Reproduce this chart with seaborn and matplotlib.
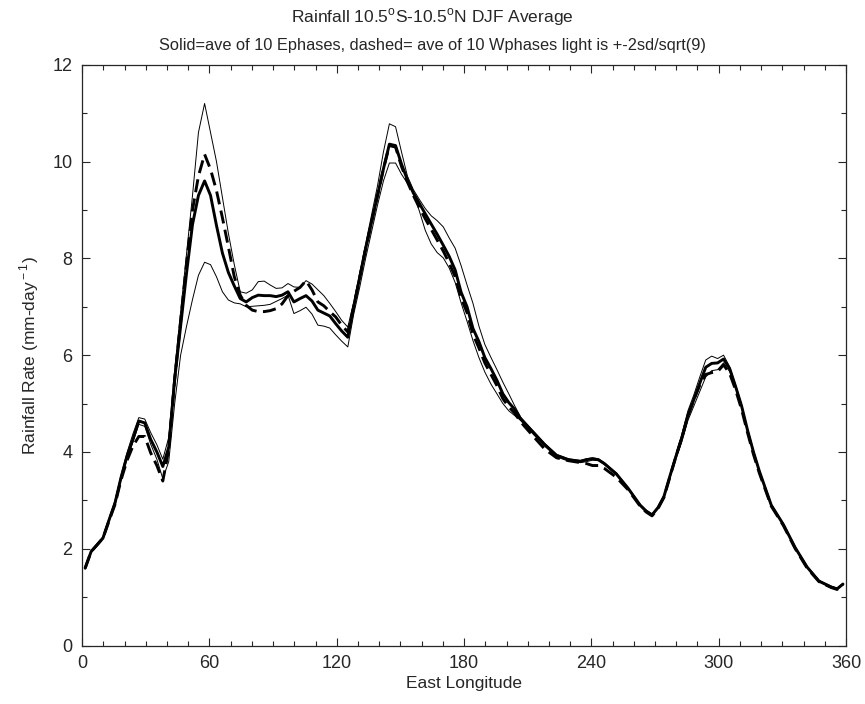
#!/usr/bin/env python3

import numpy as np
import pandas as pd
import matplotlib
matplotlib.use('Agg')
import matplotlib.pyplot as plt
from matplotlib.ticker import MultipleLocator
import seaborn as sns

# longitudes of the model grid points (deg E)
lon = [1.4, 4.2, 7.0, 9.8, 12.7, 15.5, 18.3, 21.1, 23.9, 26.7,
       29.5, 32.3, 35.2, 38.0, 40.8, 43.6, 46.4, 49.2, 52.0, 54.8,
       57.7, 60.5, 63.3, 66.1, 68.9, 71.7, 74.5, 77.3, 80.2, 83.0,
       85.8, 88.6, 91.4, 94.2, 97.0, 99.8, 102.7, 105.5, 108.3, 111.1,
       113.9, 116.7, 119.5, 122.3, 125.2, 128.0, 130.8, 133.6, 136.4, 139.2,
       142.0, 144.8, 147.7, 150.5, 153.3, 156.1, 158.9, 161.7, 164.5, 167.3,
       170.2, 173.0, 175.8, 178.6, 181.4, 184.2, 187.0, 189.8, 192.7, 195.5,
       198.3, 201.1, 203.9, 206.7, 212.3, 218.0, 223.6, 229.2, 234.8, 237.7,
       240.5, 243.3, 246.1, 251.7, 257.3, 263.0, 265.8, 268.6, 271.4, 274.2,
       277.0, 279.8, 282.7, 285.5, 288.3, 291.1, 293.9, 296.7, 299.5, 302.3,
       305.2, 308.0, 310.8, 313.6, 316.4, 319.2, 322.0, 324.8, 330.5, 336.1,
       341.7, 347.3, 353.0, 355.8, 358.6]

# solid: mean of 10 E phases
e_mean = [1.60, 1.94, 2.08, 2.22, 2.60, 2.95, 3.47, 3.91, 4.26, 4.64,
          4.60, 4.26, 4.00, 3.70, 4.10, 5.50, 6.60, 7.70, 8.70, 9.30,
          9.60, 9.30, 8.68, 8.11, 7.71, 7.43, 7.17, 7.10, 7.19, 7.24,
          7.23, 7.23, 7.21, 7.24, 7.31, 7.10, 7.17, 7.23, 7.12, 6.93,
          6.87, 6.81, 6.65, 6.50, 6.37, 7.00, 7.60, 8.20, 8.75, 9.30,
          9.85, 10.36, 10.33, 9.95, 9.62, 9.35, 9.14, 8.92, 8.71, 8.50,
          8.27, 8.04, 7.76, 7.30, 7.00, 6.55, 6.28, 5.95, 5.72, 5.48,
          5.20, 5.02, 4.88, 4.68, 4.42, 4.15, 3.93, 3.84, 3.80, 3.84,
          3.86, 3.84, 3.76, 3.55, 3.25, 2.90, 2.78, 2.70, 2.85, 3.08,
          3.50, 3.90, 4.30, 4.75, 5.08, 5.42, 5.75, 5.83, 5.84, 5.92,
          5.72, 5.35, 4.95, 4.45, 4.00, 3.60, 3.25, 2.90, 2.50, 2.02,
          1.62, 1.33, 1.21, 1.17, 1.27]

# dashed: mean of 10 W phases
w_mean = [1.60, 1.94, 2.08, 2.22, 2.58, 2.92, 3.42, 3.82, 4.12, 4.32,
          4.32, 3.98, 3.72, 3.40, 4.05, 5.50, 6.70, 7.90, 9.00, 9.70,
          10.15, 9.84, 9.40, 8.84, 8.24, 7.62, 7.24, 7.03, 6.93, 6.90,
          6.90, 6.92, 6.96, 7.06, 7.23, 7.32, 7.40, 7.54, 7.35, 7.10,
          7.02, 6.90, 6.79, 6.62, 6.48, 7.00, 7.60, 8.20, 8.75, 9.30,
          9.85, 10.33, 10.30, 9.90, 9.58, 9.30, 9.05, 8.82, 8.60, 8.38,
          8.15, 7.90, 7.62, 7.18, 6.88, 6.43, 6.15, 5.84, 5.60, 5.37,
          5.10, 4.93, 4.80, 4.62, 4.34, 4.06, 3.88, 3.82, 3.78, 3.76,
          3.72, 3.72, 3.66, 3.48, 3.22, 2.88, 2.76, 2.68, 2.83, 3.06,
          3.48, 3.90, 4.30, 4.75, 5.08, 5.38, 5.60, 5.64, 5.66, 5.80,
          5.62, 5.28, 4.88, 4.40, 3.95, 3.56, 3.22, 2.88, 2.48, 2.00,
          1.60, 1.32, 1.20, 1.16, 1.26]

# light lines: +-2sd/sqrt(9)
upper = [1.62, 1.96, 2.10, 2.25, 2.63, 3.00, 3.52, 3.98, 4.37, 4.71,
         4.68, 4.40, 4.15, 3.85, 4.30, 5.70, 6.90, 8.10, 9.30, 10.60,
         11.20, 10.60, 10.00, 9.26, 8.52, 7.87, 7.31, 7.28, 7.35, 7.52,
         7.53, 7.45, 7.38, 7.39, 7.48, 7.41, 7.40, 7.54, 7.47, 7.35,
         7.23, 7.07, 6.90, 6.72, 6.58, 7.10, 7.70, 8.30, 8.90, 9.50,
         10.20, 10.78, 10.72, 10.20, 9.70, 9.42, 9.22, 9.03, 8.88, 8.78,
         8.65, 8.42, 8.21, 7.85, 7.45, 7.07, 6.60, 6.22, 5.95, 5.70,
         5.44, 5.20, 4.95, 4.72, 4.45, 4.18, 3.95, 3.86, 3.83, 3.86,
         3.88, 3.86, 3.78, 3.57, 3.27, 2.92, 2.80, 2.72, 2.87, 3.10,
         3.52, 3.95, 4.38, 4.85, 5.18, 5.55, 5.90, 5.98, 5.93, 6.00,
         5.76, 5.38, 4.98, 4.48, 4.03, 3.62, 3.27, 2.92, 2.52, 2.04,
         1.64, 1.35, 1.23, 1.19, 1.29]

lower = [1.58, 1.92, 2.06, 2.20, 2.57, 2.90, 3.42, 3.85, 4.20, 4.57,
         4.53, 4.16, 3.85, 3.45, 3.80, 5.00, 6.00, 6.60, 7.15, 7.65,
         7.92, 7.87, 7.62, 7.31, 7.14, 7.08, 7.06, 7.00, 7.01, 7.02,
         7.03, 7.05, 7.11, 7.17, 7.24, 6.86, 6.92, 6.99, 6.85, 6.62,
         6.60, 6.56, 6.42, 6.29, 6.17, 6.85, 7.40, 8.00, 8.55, 9.10,
         9.60, 9.97, 9.97, 9.74, 9.55, 9.35, 8.98, 8.58, 8.30, 8.12,
         8.01, 7.80, 7.50, 7.08, 6.70, 6.30, 5.95, 5.65, 5.40, 5.20,
         5.00, 4.85, 4.75, 4.65, 4.38, 4.12, 3.90, 3.81, 3.78, 3.80,
         3.83, 3.82, 3.74, 3.53, 3.23, 2.88, 2.76, 2.68, 2.83, 3.05,
         3.46, 3.85, 4.22, 4.65, 4.95, 5.25, 5.55, 5.68, 5.70, 5.84,
         5.66, 5.32, 4.92, 4.42, 3.98, 3.58, 3.24, 2.89, 2.49, 2.01,
         1.61, 1.32, 1.20, 1.16, 1.26]


def plot_rainfall():
    df = pd.DataFrame({'lon': lon, 'E': e_mean, 'W': w_mean,
                       'hi': upper, 'lo': lower})

    sns.set_style('ticks')
    plt.rcParams['font.family'] = ['Liberation Sans', 'DejaVu Sans']
    plt.rcParams['mathtext.fontset'] = 'custom'
    plt.rcParams['mathtext.rm'] = 'Liberation Sans'

    fig = plt.figure(figsize=(8.65, 7.04), dpi=100)
    ax = fig.add_axes([0.095, 0.083, 0.883, 0.825])

    # light lines
    sns.lineplot(data=df, x='lon', y='hi', color='black', lw=0.7,
                 sort=False, ax=ax)
    sns.lineplot(data=df, x='lon', y='lo', color='black', lw=0.7,
                 sort=False, ax=ax)
    # E phases, solid
    sns.lineplot(data=df, x='lon', y='E', color='black', lw=2.1,
                 sort=False, ax=ax)
    # W phases, dashed
    sns.lineplot(data=df, x='lon', y='W', color='black', lw=2.1,
                 sort=False, dashes=False, ax=ax)
    ax.lines[-1].set_dashes([4.5, 2.2])

    ax.set_xlim(0, 360)
    ax.set_ylim(0, 12)
    ax.xaxis.set_major_locator(MultipleLocator(60))
    ax.xaxis.set_minor_locator(MultipleLocator(10))
    ax.yaxis.set_major_locator(MultipleLocator(2))
    ax.yaxis.set_minor_locator(MultipleLocator(1))
    ax.tick_params(which='both', direction='in', top=True, right=True,
                   labelsize=13, width=0.8)
    ax.tick_params(which='major', length=6)
    ax.tick_params(which='minor', length=3.5)
    ax.tick_params(axis='x', which='major', pad=7)
    ax.tick_params(axis='y', which='major', pad=7)
    for s in ax.spines.values():
        s.set_linewidth(0.9)

    ax.set_xlabel('East Longitude', fontsize=12.5, labelpad=3)
    ax.set_ylabel(r'Rainfall Rate (mm-day$^{\rm -1}$)', fontsize=12.5,
                  labelpad=8)

    fig.text(0.5, 0.975, r'Rainfall 10.5$^{\rm o}$S-10.5$^{\rm o}$N DJF Average',
             ha='center', va='center', fontsize=12.5)
    fig.text(0.5, 0.935,
             'Solid=ave of 10 Ephases, dashed= ave of 10 Wphases light is +-2sd/sqrt(9)',
             ha='center', va='center', fontsize=11.8)

    fig.savefig('out.png', dpi=100)


def main():
    plot_rainfall()


if __name__ == '__main__':
    main()
